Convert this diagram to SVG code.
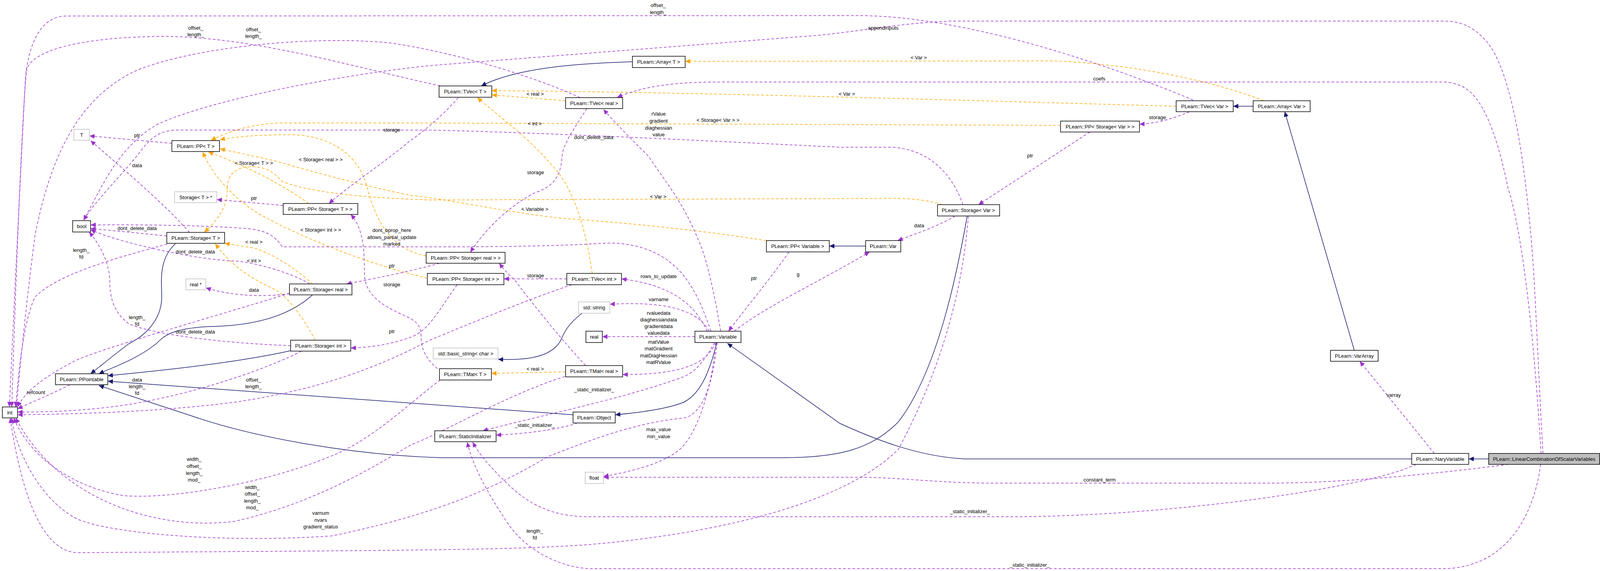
<svg xmlns="http://www.w3.org/2000/svg" width="4101" height="1462" viewBox="0 0 4101 1462">
<style>
text{font-family:"Liberation Sans",Arial,sans-serif;font-size:13px;text-anchor:middle;fill:#000}
.n rect{fill:#fff;stroke:#000;stroke-width:1.5}
.g rect{fill:#fff;stroke:#bfbfbf;stroke-width:1.5}
.hl rect{fill:#bfbfbf;stroke:#000;stroke-width:1.5}
.inh{fill:none;stroke:#191970;stroke-width:1.5;marker-end:url(#an)}
.tpl{fill:none;stroke:#ffa500;stroke-width:1.5;stroke-dasharray:7,5;marker-end:url(#ao)}
.use{fill:none;stroke:#9a32cd;stroke-width:1.5;stroke-dasharray:7,5;marker-end:url(#ap)}
</style>
<defs>
<marker id="an" markerUnits="userSpaceOnUse" markerWidth="14" markerHeight="12" refX="13" refY="6" orient="auto"><path d="M0,0L13,6L0,12z" fill="#191970"/></marker>
<marker id="ao" markerUnits="userSpaceOnUse" markerWidth="14" markerHeight="12" refX="13" refY="6" orient="auto"><path d="M0,0L13,6L0,12z" fill="#ffa500"/></marker>
<marker id="ap" markerUnits="userSpaceOnUse" markerWidth="14" markerHeight="12" refX="13" refY="6" orient="auto"><path d="M0,0L13,6L0,12z" fill="#9a32cd"/></marker>
</defs>
<rect width="4101" height="1462" fill="#fff"/>
<g id="edges">
<path class="inh" d="M1619,158 C1500,162 1330,170 1232,220"/>
<path class="inh" d="M3208,272 L3157,272"/>
<path class="inh" d="M3467,897 L3289,286"/>
<path class="inh" d="M2216,630 L2123,630"/>
<path class="inh" d="M449,624 C405,665 414,720 414,760 C414,820 370,860 330,880 C290,910 260,935 232,957"/>
<path class="inh" d="M800,755 C740,810 650,834 540,836 C440,840 420,860 400,880 C350,920 290,940 253,957"/>
<path class="inh" d="M744,898 C600,930 400,950 276,962"/>
<path class="inh" d="M1467,1062 L276,976"/>
<path class="inh" d="M2476,553 C2450,700 2400,950 2300,1080 C2230,1150 2150,1172 2000,1172 L1130,1172 C900,1165 650,1120 491,1065 L253,987"/>
<path class="inh" d="M1490,802 C1440,840 1440,870 1430,880 C1400,920 1330,922 1275,920"/>
<path class="inh" d="M1835,877 C1815,960 1790,1010 1750,1030 C1700,1050 1620,1058 1575,1062"/>
<path class="inh" d="M3614,1175 L2470,1175 C2360,1170 2250,1130 2150,1084 L1862,879"/>
<path class="inh" d="M3811,1175 L3760,1175"/>

<path class="tpl" d="M1448,258 L1259,243"/>
<path class="tpl" d="M1516,700 C1500,590 1470,480 1410,420 C1350,350 1280,300 1222,250"/>
<path class="tpl" d="M3011,272 C2500,258 1800,236 1259,232"/>
<path class="tpl" d="M3235,258 C3100,205 2900,165 2700,156 L1754,157"/>
<path class="tpl" d="M2715,321 L1100,315 L720,315 C650,316 590,335 540,359"/>
<path class="tpl" d="M2412,524 C2370,510 2320,508 2280,508 L1100,512 C900,505 790,490 723,465 C700,440 680,427 645,427 C600,427 582,450 582,480 C582,530 560,560 523,595"/>
<path class="tpl" d="M1091,655 C1000,640 960,560 940,480 C920,400 850,345 740,345 C660,345 600,350 563,358"/>
<path class="tpl" d="M1962,616 C1800,590 1600,570 1450,560 C1300,545 1150,510 1050,500 C950,480 800,440 701,411 L563,381"/>
<path class="tpl" d="M790,521 C720,470 620,420 533,389"/>
<path class="tpl" d="M1094,712 C950,680 750,600 650,540 C580,490 540,440 519,389"/>
<path class="tpl" d="M800,727 C760,690 700,650 650,635 L575,623"/>
<path class="tpl" d="M807,871 C780,820 740,760 701,740 C650,715 600,690 551,624"/>
<path class="tpl" d="M1448,952 L1258,956"/>

<path class="use" d="M440,367 L229,348"/>
<path class="use" d="M485,595 C420,520 300,420 232,360"/>
<path class="use" d="M427,604 L232,585"/>
<path class="use" d="M428,625 C300,660 150,700 90,760 C60,820 48,950 40,1042"/>
<path class="use" d="M725,526 L555,511"/>
<path class="use" d="M1173,250 C1130,300 1080,340 1050,360 C980,420 900,470 842,521"/>
<path class="use" d="M1127,220 C900,170 650,95 420,93 C200,95 80,130 68,180 C55,300 38,800 30,1042"/>
<path class="use" d="M1485,250 C1400,210 1200,140 1000,110 C800,90 500,120 350,180 C200,250 130,400 90,600 C70,750 50,950 42,1042"/>
<path class="use" d="M3054,256 C2800,150 2450,40 2198,40 L170,41 C110,41 75,100 65,200 C50,500 35,800 24,1042"/>
<path class="use" d="M2465,524 C2440,450 2380,380 2280,377 L2150,377 C1800,360 1400,340 1100,333 L450,333 C400,335 380,360 350,400 C300,460 240,520 214,564"/>
<path class="use" d="M3950,1161 C3935,900 3930,700 3915,560 C3890,300 3850,150 3800,100 C3770,68 3740,54 3695,54 L2430,54 C2300,60 2200,80 2100,90 L1100,168 C800,200 500,270 400,320 C300,380 260,480 214,564"/>
<path class="use" d="M3945,1161 C3930,900 3900,600 3860,480 C3830,330 3790,240 3740,220 C3720,212 3710,210 3695,210 L1822,210 C1700,212 1640,225 1580,249"/>
<path class="use" d="M3944,1189 C3930,1300 3870,1450 3700,1456 L1506,1456 C1420,1450 1340,1400 1300,1340 C1240,1250 1210,1190 1196,1132"/>
<path class="use" d="M3625,1189 C3500,1250 3000,1320 2610,1323 L1506,1323 C1400,1323 1340,1280 1290,1230 C1250,1190 1225,1160 1210,1132"/>
<path class="use" d="M3861,1189 C3700,1210 3450,1237 3249,1237 L2547,1237 C2400,1237 2300,1222 2200,1222 L1545,1222"/>
<path class="use" d="M3672,1161 L3481,925"/>
<path class="use" d="M1832,877 C1825,980 1790,1100 1745,1146 C1700,1190 1600,1210 1545,1220"/>
<path class="use" d="M1836,877 C1825,980 1800,1060 1752,1070 C1650,1080 1550,1110 1401,1170 C1250,1260 1100,1320 850,1372 C600,1390 300,1370 200,1330 C100,1280 40,1150 30,1070"/>
<path class="use" d="M2479,553 C2460,800 2380,1000 2300,1150 C2150,1300 1800,1370 1500,1395 C1300,1408 1100,1409 200,1415 C120,1415 60,1300 26,1070"/>
<path class="use" d="M1127,973 C1050,1030 950,1130 842,1170 C700,1230 450,1280 316,1269 C200,1250 80,1180 35,1070"/>
<path class="use" d="M1446,964 C1300,1010 1150,1100 1050,1140 C950,1200 800,1290 600,1335 C400,1360 150,1280 40,1070"/>
<path class="use" d="M1464,729 C1350,767 1200,830 1100,871 C950,950 800,1000 600,1030 C400,1055 200,1060 45,1062"/>
<path class="use" d="M772,899 C650,960 450,1020 300,1040 C180,1055 100,1055 45,1055"/>
<path class="use" d="M179,985 C130,1010 80,1030 45,1047"/>
<path class="use" d="M741,751 C550,810 300,880 200,920 C100,970 60,1010 45,1042"/>
<path class="use" d="M744,885 C600,880 400,860 330,829 C290,800 281,760 281,720 C281,680 260,630 228,594"/>
<path class="use" d="M793,727 C750,700 650,670 596,668 C500,665 300,620 232,588"/>
<path class="use" d="M741,752 C680,760 600,760 527,737"/>
<path class="use" d="M1820,848 C1790,760 1760,700 1700,660 C1650,630 1600,620 1541,623 C1400,632 1200,632 1050,632 L723,632 C700,600 680,590 630,585 C500,575 300,575 232,576"/>
<path class="use" d="M1845,848 C1830,760 1810,660 1787,613 C1750,520 1700,460 1660,400 C1610,350 1570,310 1545,280"/>
<path class="use" d="M1810,848 C1780,780 1720,730 1591,714"/>
<path class="use" d="M1815,848 C1790,800 1720,770 1561,779"/>
<path class="use" d="M1779,862 L1542,862"/>
<path class="use" d="M1832,877 C1810,930 1750,959 1594,959"/>
<path class="use" d="M1829,877 C1800,930 1780,950 1752,964 C1600,1020 1400,1060 1236,1103"/>
<path class="use" d="M1478,1083 C1430,1100 1350,1110 1270,1114"/>
<path class="use" d="M1120,944 C1080,910 1078,880 1078,860 C1078,830 1060,820 1040,810 C970,780 933,750 933,700 C933,620 925,580 898,549"/>
<path class="use" d="M1499,936 C1420,850 1350,760 1320,720 C1300,700 1290,690 1278,674"/>
<path class="use" d="M1451,714 L1290,714"/>
<path class="use" d="M1502,278 C1470,330 1440,370 1439,401 C1435,460 1410,480 1366,495 C1300,530 1240,590 1204,646"/>
<path class="use" d="M1170,729 C1120,800 1100,840 1060,860 C1010,880 950,890 898,891"/>
<path class="use" d="M1125,674 C1050,695 950,715 887,727"/>
<path class="use" d="M2020,645 C1960,730 1900,800 1865,848"/>
<path class="use" d="M1880,848 C1950,790 2100,720 2226,645"/>
<path class="use" d="M2445,553 C2400,580 2340,600 2298,616"/>
<path class="use" d="M2790,338 L2505,524"/>
<path class="use" d="M3045,286 C3000,305 2960,316 2917,318"/>
</g>
<g id="labels">
<text x="501" y="76">offset_</text><text x="501" y="93">length_</text>
<text x="649" y="80">offset_</text><text x="649" y="97">length_</text>
<text x="1685" y="18">offset_</text><text x="1685" y="36">length_</text>
<text x="351" y="351">ptr</text>
<text x="351" y="428">data</text>
<text x="351" y="589">dont_delete_data</text>
<text x="208" y="645">length_</text><text x="208" y="662">fd</text>
<text x="650" y="512">ptr</text>
<text x="1003" y="337">storage</text>
<text x="1520" y="356">dont_delete_data</text>
<text x="2261" y="76">appendinputs</text>
<text x="2814" y="206">coefs</text>
<text x="650" y="422">&lt; Storage&lt; T &gt; &gt;</text>
<text x="821" y="413">&lt; Storage&lt; real &gt; &gt;</text>
<text x="821" y="593">&lt; Storage&lt; int &gt; &gt;</text>
<text x="650" y="624">&lt; real &gt;</text>
<text x="650" y="672">&lt; int &gt;</text>
<text x="500" y="649">dont_delete_data</text>
<text x="1003" y="594">dont_bprop_here</text><text x="1003" y="612">allows_partial_update</text><text x="1003" y="629">marked</text>
<text x="1003" y="685">ptr</text>
<text x="1003" y="733">storage</text>
<text x="1003" y="853">ptr</text>
<text x="650" y="747">data</text>
<text x="351" y="817">length_</text><text x="351" y="834">fd</text>
<text x="500" y="854">dont_delete_data</text>
<text x="351" y="977">data</text><text x="351" y="994">length_</text><text x="351" y="1011">fd</text>
<text x="649" y="977">offset_</text><text x="649" y="994">length_</text>
<text x="92" y="1009">refcount</text>
<text x="497" y="1180">width_</text><text x="497" y="1198">offset_</text><text x="497" y="1216">length_</text><text x="497" y="1233">mod_</text>
<text x="646" y="1252">width_</text><text x="646" y="1269">offset_</text><text x="646" y="1287">length_</text><text x="646" y="1304">mod_</text>
<text x="821" y="1318">varnum</text><text x="821" y="1336">nvars</text><text x="821" y="1353">gradient_status</text>
<text x="1370" y="245">&lt; real &gt;</text>
<text x="1369" y="321">&lt; int &gt;</text>
<text x="1838" y="312">&lt; Storage&lt; Var &gt; &gt;</text>
<text x="1686" y="296">rValue</text><text x="1686" y="314">gradient</text><text x="1686" y="332">diaghessian</text><text x="1686" y="349">value</text>
<text x="1371" y="446">storage</text>
<text x="1685" y="508">&lt; Var &gt;</text>
<text x="1369" y="540">&lt; Variable &gt;</text>
<text x="1371" y="710">storage</text>
<text x="1686" y="712">rows_to_update</text>
<text x="1930" y="717">ptr</text>
<text x="2043" y="707">g</text>
<text x="1686" y="771">varname</text>
<text x="1686" y="806">rvaluedata</text><text x="1686" y="823">diaghessiandata</text><text x="1686" y="840">gradientdata</text><text x="1686" y="857">valuedata</text>
<text x="1686" y="880">matValue</text><text x="1686" y="897">matGradient</text><text x="1686" y="915">matDiagHessian</text><text x="1686" y="932">matRValue</text>
<text x="1370" y="949">&lt; real &gt;</text>
<text x="1521" y="1002">_static_initializer_</text>
<text x="1369" y="1093">_static_initializer_</text>
<text x="1686" y="1104">max_value</text><text x="1686" y="1122">min_value</text>
<text x="1369" y="1364">length_</text><text x="1369" y="1381">fd</text>
<text x="2168" y="245">&lt; Var &gt;</text>
<text x="2352" y="152">&lt; Var &gt;</text>
<text x="2963" y="305">storage</text>
<text x="2637" y="403">ptr</text>
<text x="2353" y="582">data</text>
<text x="3568" y="1016">varray</text>
<text x="2815" y="1233">constant_term</text>
<text x="2483" y="1314">_static_initializer_</text>
<text x="2636" y="1451">_static_initializer_</text>
</g>
<g id="n_T" class="g"><rect x="189" y="331" width="40" height="28"/><text x="209" y="350">T</text></g>
<g id="n_PPT" class="n"><rect x="440" y="360" width="122" height="28"/><text x="501" y="379">PLearn::PP&lt; T &gt;</text></g>
<g id="n_StorageTptr" class="g"><rect x="447" y="491" width="108" height="28"/><text x="501" y="510">Storage&lt; T &gt; *</text></g>
<g id="n_PPStorageT" class="n"><rect x="725" y="521" width="191" height="28"/><text x="820" y="540">PLearn::PP&lt; Storage&lt; T &gt; &gt;</text></g>
<g id="n_bool" class="n"><rect x="186" y="565" width="46" height="29"/><text x="209" y="584">bool</text></g>
<g id="n_StorageT" class="n"><rect x="427" y="595" width="148" height="28"/><text x="501" y="614">PLearn::Storage&lt; T &gt;</text></g>
<g id="n_realptr" class="g"><rect x="476" y="714" width="51" height="28"/><text x="501" y="733">real *</text></g>
<g id="n_StorageReal" class="n"><rect x="741" y="727" width="160" height="28"/><text x="821" y="746">PLearn::Storage&lt; real &gt;</text></g>
<g id="n_StorageInt" class="n"><rect x="744" y="871" width="154" height="28"/><text x="821" y="890">PLearn::Storage&lt; int &gt;</text></g>
<g id="n_PPointable" class="n"><rect x="142" y="957" width="134" height="28"/><text x="209" y="976">PLearn::PPointable</text></g>
<g id="n_int" class="n"><rect x="6" y="1042" width="39" height="28"/><text x="25" y="1061">int</text></g>
<g id="n_ArrayT" class="n"><rect x="1619" y="144" width="135" height="29"/><text x="1686" y="163">PLearn::Array&lt; T &gt;</text></g>
<g id="n_TVecT" class="n"><rect x="1124" y="220" width="135" height="29"/><text x="1191" y="239">PLearn::TVec&lt; T &gt;</text></g>
<g id="n_TVecReal" class="n"><rect x="1448" y="250" width="146" height="28"/><text x="1521" y="269">PLearn::TVec&lt; real &gt;</text></g>
<g id="n_PPVariable" class="n"><rect x="1962" y="616" width="161" height="29"/><text x="2042" y="635">PLearn::PP&lt; Variable &gt;</text></g>
<g id="n_PPStorageReal" class="n"><rect x="1091" y="646" width="202" height="28"/><text x="1192" y="665">PLearn::PP&lt; Storage&lt; real &gt; &gt;</text></g>
<g id="n_PPStorageInt" class="n"><rect x="1094" y="700" width="196" height="29"/><text x="1192" y="719">PLearn::PP&lt; Storage&lt; int &gt; &gt;</text></g>
<g id="n_TVecInt" class="n"><rect x="1451" y="700" width="140" height="29"/><text x="1521" y="719">PLearn::TVec&lt; int &gt;</text></g>
<g id="n_stdstring" class="g"><rect x="1481" y="773" width="80" height="29"/><text x="1521" y="792">std::string</text></g>
<g id="n_real" class="n"><rect x="1500" y="848" width="42" height="29"/><text x="1521" y="867">real</text></g>
<g id="n_Variable" class="n"><rect x="1779" y="848" width="118" height="29"/><text x="1838" y="867">PLearn::Variable</text></g>
<g id="n_basicstring" class="g"><rect x="1109" y="891" width="166" height="28"/><text x="1192" y="910">std::basic_string&lt; char &gt;</text></g>
<g id="n_TMatT" class="n"><rect x="1125" y="944" width="133" height="29"/><text x="1191" y="963">PLearn::TMat&lt; T &gt;</text></g>
<g id="n_TMatReal" class="n"><rect x="1448" y="936" width="146" height="29"/><text x="1521" y="955">PLearn::TMat&lt; real &gt;</text></g>
<g id="n_Object" class="n"><rect x="1467" y="1055" width="108" height="28"/><text x="1521" y="1074">PLearn::Object</text></g>
<g id="n_StaticInit" class="n"><rect x="1113" y="1103" width="157" height="28"/><text x="1191" y="1122">PLearn::StaticInitializer</text></g>
<g id="n_float" class="g"><rect x="1498" y="1209" width="47" height="29"/><text x="1521" y="1228">float</text></g>
<g id="n_TVecVar" class="n"><rect x="3011" y="258" width="146" height="28"/><text x="3084" y="277">PLearn::TVec&lt; Var &gt;</text></g>
<g id="n_PPStorageVar" class="n"><rect x="2715" y="310" width="202" height="28"/><text x="2816" y="329">PLearn::PP&lt; Storage&lt; Var &gt; &gt;</text></g>
<g id="n_StorageVar" class="n"><rect x="2400" y="524" width="159" height="29"/><text x="2479" y="543">PLearn::Storage&lt; Var &gt;</text></g>
<g id="n_Var" class="n"><rect x="2216" y="616" width="90" height="29"/><text x="2261" y="635">PLearn::Var</text></g>
<g id="n_ArrayVar" class="n"><rect x="3208" y="258" width="146" height="28"/><text x="3281" y="277">PLearn::Array&lt; Var &gt;</text></g>
<g id="n_VarArray" class="n"><rect x="3406" y="897" width="122" height="28"/><text x="3467" y="916">PLearn::VarArray</text></g>
<g id="n_Nary" class="n"><rect x="3614" y="1161" width="146" height="28"/><text x="3687" y="1180">PLearn::NaryVariable</text></g>
<g id="n_LC" class="hl"><rect x="3811" y="1161" width="284" height="28"/><text x="3953" y="1180">PLearn::LinearCombinationOfScalarVariables</text></g>
</svg>
